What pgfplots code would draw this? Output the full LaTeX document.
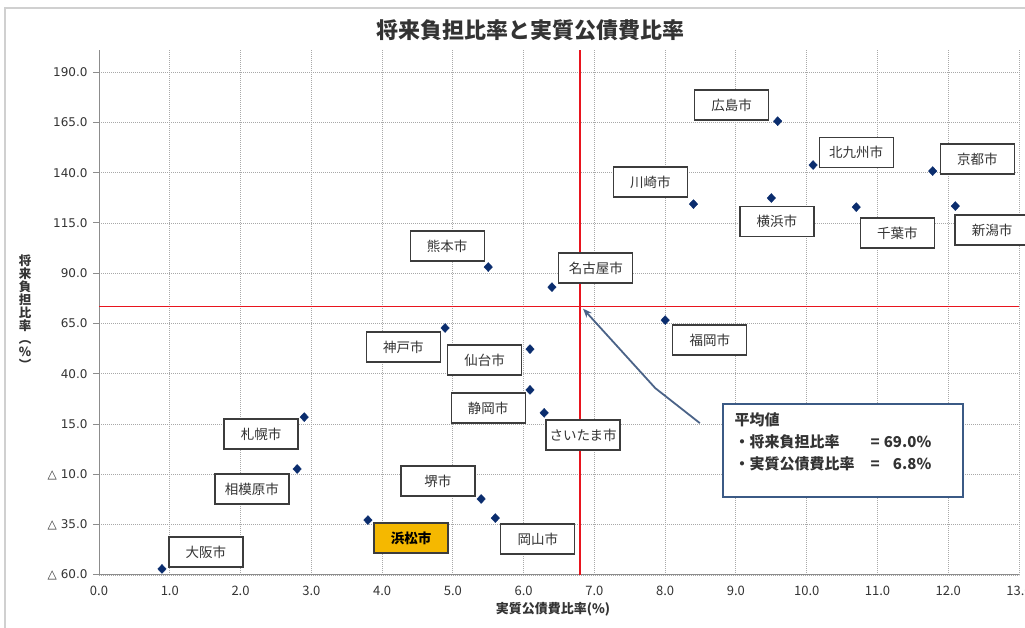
\documentclass[border=0pt]{standalone}
\usepackage{fontspec}
\setmainfont{Noto Sans CJK JP}
\newfontfamily\tickfont{DejaVu Sans}
\usepackage{pgfplots}
\pgfplotsset{compat=1.18}
\usetikzlibrary{arrows.meta}

\definecolor{markblue}{HTML}{0B2D6E}
\definecolor{boxgray}{HTML}{3C3C3C}
\definecolor{txtgray}{HTML}{333333}
\definecolor{gridgray}{HTML}{A8A8A8}
\definecolor{axisgray}{HTML}{8C8C8C}
\definecolor{framegray}{HTML}{D0D0D0}
\definecolor{calloutblue}{HTML}{3B5A85}
\definecolor{arrowblue}{HTML}{4B6388}
\definecolor{hamaorange}{HTML}{F5B800}
\definecolor{avgred}{HTML}{E8141E}

\tikzset{
  lbl/.style={draw=boxgray, line width=1.3bp, fill=white, text=txtgray,
    minimum width=74bp, minimum height=30bp, inner sep=0pt,
    font=\fontsize{13.5bp}{15bp}\selectfont},
}

\begin{document}
\begin{tikzpicture}[x=1bp,y=1bp]
\path[use as bounding box] (0,0) rectangle (1025,628);
\draw[framegray, line width=2bp] (5,0) -- (5,620) -- (1025,620);

% title
\node[font=\fontsize{22bp}{24bp}\selectfont\bfseries, text=txtgray] at (530,598) {将来負担比率と実質公債費比率};

% y label, set vertically
\node[font=\fontsize{12.5bp}{13bp}\selectfont\bfseries, text=txtgray, align=center] at (25,316)
  {将\\来\\負\\担\\比\\率\\︵\\\%\\︶};

% x label
\node[font=\fontsize{13bp}{14bp}\selectfont\bfseries, text=txtgray] at (553,19) {実質公債費比率(\%)};

\begin{axis}[
  at={(99bp,53bp)}, anchor=south west,
  scale only axis, width=920bp, height=525bp,
  xmin=0, xmax=13, ymin=-60, ymax=201,
  axis x line=bottom, axis y line=left,
  axis line style={axisgray, line width=1bp, -},
  xtick={0,1,...,13},
  xticklabels={0.0,1.0,2.0,3.0,4.0,5.0,6.0,7.0,8.0,9.0,10.0,11.0,12.0,13.0},
  ytick={-60,-35,-10,15,40,65,90,115,140,165,190},
  yticklabels={△ 60.0,△ 35.0,△ 10.0,15.0,40.0,65.0,90.0,115.0,140.0,165.0,190.0},
  x tick label style={font=\fontsize{13bp}{14bp}\selectfont, text=txtgray, yshift=-2bp},
  y tick label style={font=\tickfont\fontsize{12bp}{14bp}\selectfont, text=txtgray, xshift=-2bp},
  x tick style={draw=none},
  y tick style={axisgray, line width=1bp},
  tick align=outside, major tick length=6bp,
  grid=major,
  major grid style={gridgray, line width=0.9bp, dash pattern=on 1bp off 1bp},
  clip=false,
]
% averages
\addplot[avgred, line width=1.6bp] coordinates {(6.8,-60) (6.8,201)};
\addplot[avgred, line width=1.6bp] coordinates {(0,73.5) (13,73.5)};

% cities
\addplot[only marks, mark=diamond*, mark size=4.5bp, mark options={xscale=1.25}, color=markblue] coordinates {
  (0.89,-57.0)  % 大阪市
  (2.90,18.5)   % 札幌市
  (2.80,-7.3)   % 相模原市
  (3.80,-32.7)  % 浜松市
  (5.40,-22.2)  % 堺市
  (5.60,-31.7)  % 岡山市
  (4.89,62.8)   % 神戸市
  (6.09,52.3)   % 仙台市
  (6.09,32.0)   % 静岡市
  (6.29,20.6)   % さいたま市
  (5.50,93.1)   % 熊本市
  (6.40,83.1)   % 名古屋市
  (8.00,66.7)   % 福岡市
  (8.40,124.4)  % 川崎市
  (9.59,165.6)  % 広島市
  (9.50,127.4)  % 横浜市
  (10.09,143.8) % 北九州市
  (10.70,122.9) % 千葉市
  (11.78,140.8) % 京都市
  (12.10,123.4) % 新潟市
};

% data labels
\node[lbl] at (axis cs:8.94,173.6) {広島市};
\node[lbl] at (axis cs:10.70,150.2) {北九州市};
\node[lbl] at (axis cs:12.41,146.8) {京都市};
\node[lbl] at (axis cs:7.79,135.3) {川崎市};
\node[lbl] at (axis cs:9.58,115.9) {横浜市};
\node[lbl] at (axis cs:11.28,110.0) {千葉市};
\node[lbl] at (axis cs:12.62,111.5) {新潟市};
\node[lbl] at (axis cs:4.92,103.5) {熊本市};
\node[lbl] at (axis cs:7.02,92.6) {名古屋市};
\node[lbl] at (axis cs:8.63,56.8) {福岡市};
\node[lbl] at (axis cs:4.30,53.3) {神戸市};
\node[lbl] at (axis cs:5.45,46.9) {仙台市};
\node[lbl] at (axis cs:5.50,23.0) {静岡市};
\node[lbl] at (axis cs:6.84,9.6) {さいたま市};
\node[lbl] at (axis cs:2.29,10.1) {札幌市};
\node[lbl] at (axis cs:2.16,-17.3) {相模原市};
\node[lbl] at (axis cs:4.79,-13.3) {堺市};
\node[lbl, fill=hamaorange, font=\fontsize{13.5bp}{15bp}\selectfont\bfseries, text=black] at (axis cs:4.41,-41.6) {浜松市};
\node[lbl] at (axis cs:6.20,-42.1) {岡山市};
\node[lbl] at (axis cs:1.51,-48.6) {大阪市};

% callout
\draw[arrowblue, line width=1.8bp, -{Stealth[length=9bp,width=7bp]}]
  (axis cs:8.49,15.5) -- (axis cs:7.86,32.9) -- (axis cs:6.84,72.4);
\draw[calloutblue, line width=1.6bp, fill=white] (axis cs:8.82,25.0) rectangle (axis cs:12.21,-21.2);
\node[anchor=north west, inner sep=0pt, text=txtgray, font=\fontsize{15bp}{22bp}\selectfont\bfseries]
  at (axis cs:8.98,22.0) {%
  \begin{tabular}{@{}l@{\hspace{16bp}}l@{\hspace{4bp}}r@{}}
  \multicolumn{3}{@{}l}{平均値}\\
  ・将来負担比率 & = & 69.0\%\\
  ・実質公債費比率 & = & 6.8\%
  \end{tabular}};
\end{axis}
\end{tikzpicture}
\end{document}
